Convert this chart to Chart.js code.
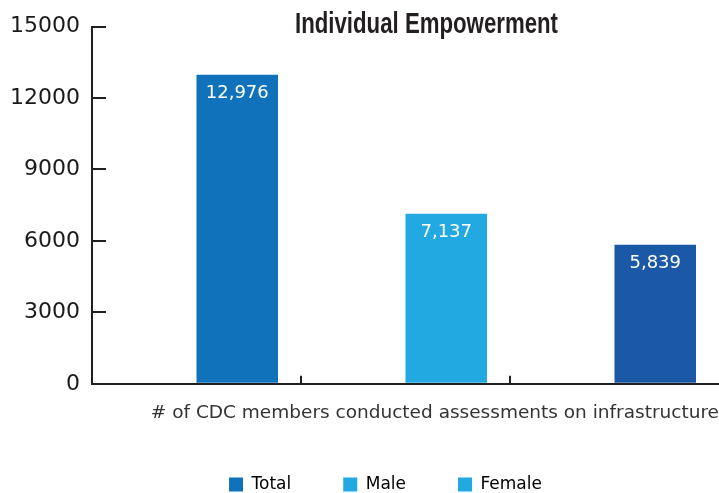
<!DOCTYPE html>
<html>
<head>
<meta charset="utf-8">
<script src="https://cdn.jsdelivr.net/npm/chart.js@4.4.1/dist/chart.umd.min.js"></script>
<style>
  html, body { margin: 0; padding: 0; background: #ffffff; }
  #wrap { width: 719px; height: 493px; }
</style>
</head>
<body>
<div id="wrap"><canvas id="chart-cdc"></canvas></div>
<script>
// Data
const categories = ['Total', 'Male', 'Female'];
const values = [12976, 7137, 5839];
const barColors = ['#1172bc', '#23a9e1', '#1b59a7'];
const legendLabels = ['Total', 'Male', 'Female'];
const legendColors = ['#1172bc', '#23a9e1', '#23a9e1'];
const yTicks = [0, 3000, 6000, 9000, 12000, 15000];
const chartTitle = 'Individual Empowerment';
const axisTitle = '# of CDC members conducted assessments on infrastructure';

const axisColor = '#231f20';
const textColor = '#333333';

// Title drawn by hand: condensed bold face, slightly right of the plot centre
const titlePlugin = {
  id: 'titlePlugin',
  afterDraw(chart) {
    const { ctx, chartArea } = chart;
    const targetWidth = 263;
    ctx.save();
    ctx.font = "bold 29px 'Liberation Sans', sans-serif";
    const w = ctx.measureText(chartTitle).width;
    ctx.fillStyle = axisColor;
    ctx.textAlign = 'center';
    ctx.textBaseline = 'middle';
    ctx.translate((chartArea.left + chartArea.right) / 2 + 21, 25);
    ctx.scale(targetWidth / w, 1);
    ctx.fillText(chartTitle, 0, 0);
    ctx.restore();
  }
};

// Legend sits a little right of the canvas centre in the reference
const legendShift = {
  id: 'legendShift',
  afterLayout(chart) {
    chart.legend.left += 34;
    chart.legend.right += 34;
  }
};

// White value labels just inside the top of each bar
const barLabels = {
  id: 'barLabels',
  afterDatasetsDraw(chart) {
    const { ctx } = chart;
    const meta = chart.getDatasetMeta(1);
    ctx.save();
    ctx.font = "18px 'DejaVu Sans', sans-serif";
    ctx.fillStyle = '#ffffff';
    ctx.textAlign = 'center';
    ctx.textBaseline = 'top';
    meta.data.forEach((bar, i) => {
      ctx.fillText(values[i].toLocaleString('en-US'), bar.x, bar.y + 10);
    });
    ctx.restore();
  }
};

new Chart(document.getElementById('chart-cdc'), {
  type: 'bar',
  data: {
    labels: categories,
    datasets: [
      // empty slot so the real bar sits right of each category centre
      { label: 'spacer', data: categories.map(() => null), backgroundColor: 'transparent' },
      { label: 'CDC members', data: values, backgroundColor: barColors, borderWidth: 0 }
    ]
  },
  options: {
    responsive: true,
    maintainAspectRatio: false,
    animation: false,
    categoryPercentage: 0.78,
    barPercentage: 1.0,
    layout: { padding: { left: -16, right: 0, top: 0, bottom: -10 } },
    plugins: {
      title: { display: false },
      tooltip: { enabled: false },
      legend: {
        position: 'bottom',
        labels: {
          color: textColor,
          font: { family: "'DejaVu Sans', sans-serif", size: 17 },
          boxWidth: 14,
          boxHeight: 14,
          padding: 52,
          generateLabels: () => legendLabels.map((text, i) => ({
            text,
            fillStyle: legendColors[i],
            strokeStyle: legendColors[i],
            lineWidth: 0,
            hidden: false,
            datasetIndex: 1
          }))
        }
      }
    },
    scales: {
      x: {
        grid: {
          offset: true,
          drawOnChartArea: false,
          tickLength: -8,
          // the extra edge line after the last category gets the scale context (no tick)
          color: c => (c.tick ? axisColor : 'rgba(0,0,0,0)'),
          lineWidth: 2
        },
        border: { color: axisColor, width: 2 },
        ticks: { display: false },
        title: {
          display: true,
          text: axisTitle,
          align: 'end',
          color: textColor,
          font: { family: "'DejaVu Sans', sans-serif", size: 18.5 },
          padding: { top: 26, bottom: 0 }
        }
      },
      y: {
        min: 0,
        max: 15000,
        afterBuildTicks: scale => { scale.ticks = yTicks.map(v => ({ value: v })); },
        grid: { drawOnChartArea: false, tickLength: -14, color: axisColor, lineWidth: 2 },
        border: { color: axisColor, width: 2 },
        ticks: {
          color: '#1a1a1a',
          padding: 26,
          font: { family: "'DejaVu Sans', sans-serif", size: 22, lineHeight: 0.05 },
          callback: value => String(value)
        }
      }
    }
  },
  plugins: [titlePlugin, legendShift, barLabels]
});
</script>
</body>
</html>
